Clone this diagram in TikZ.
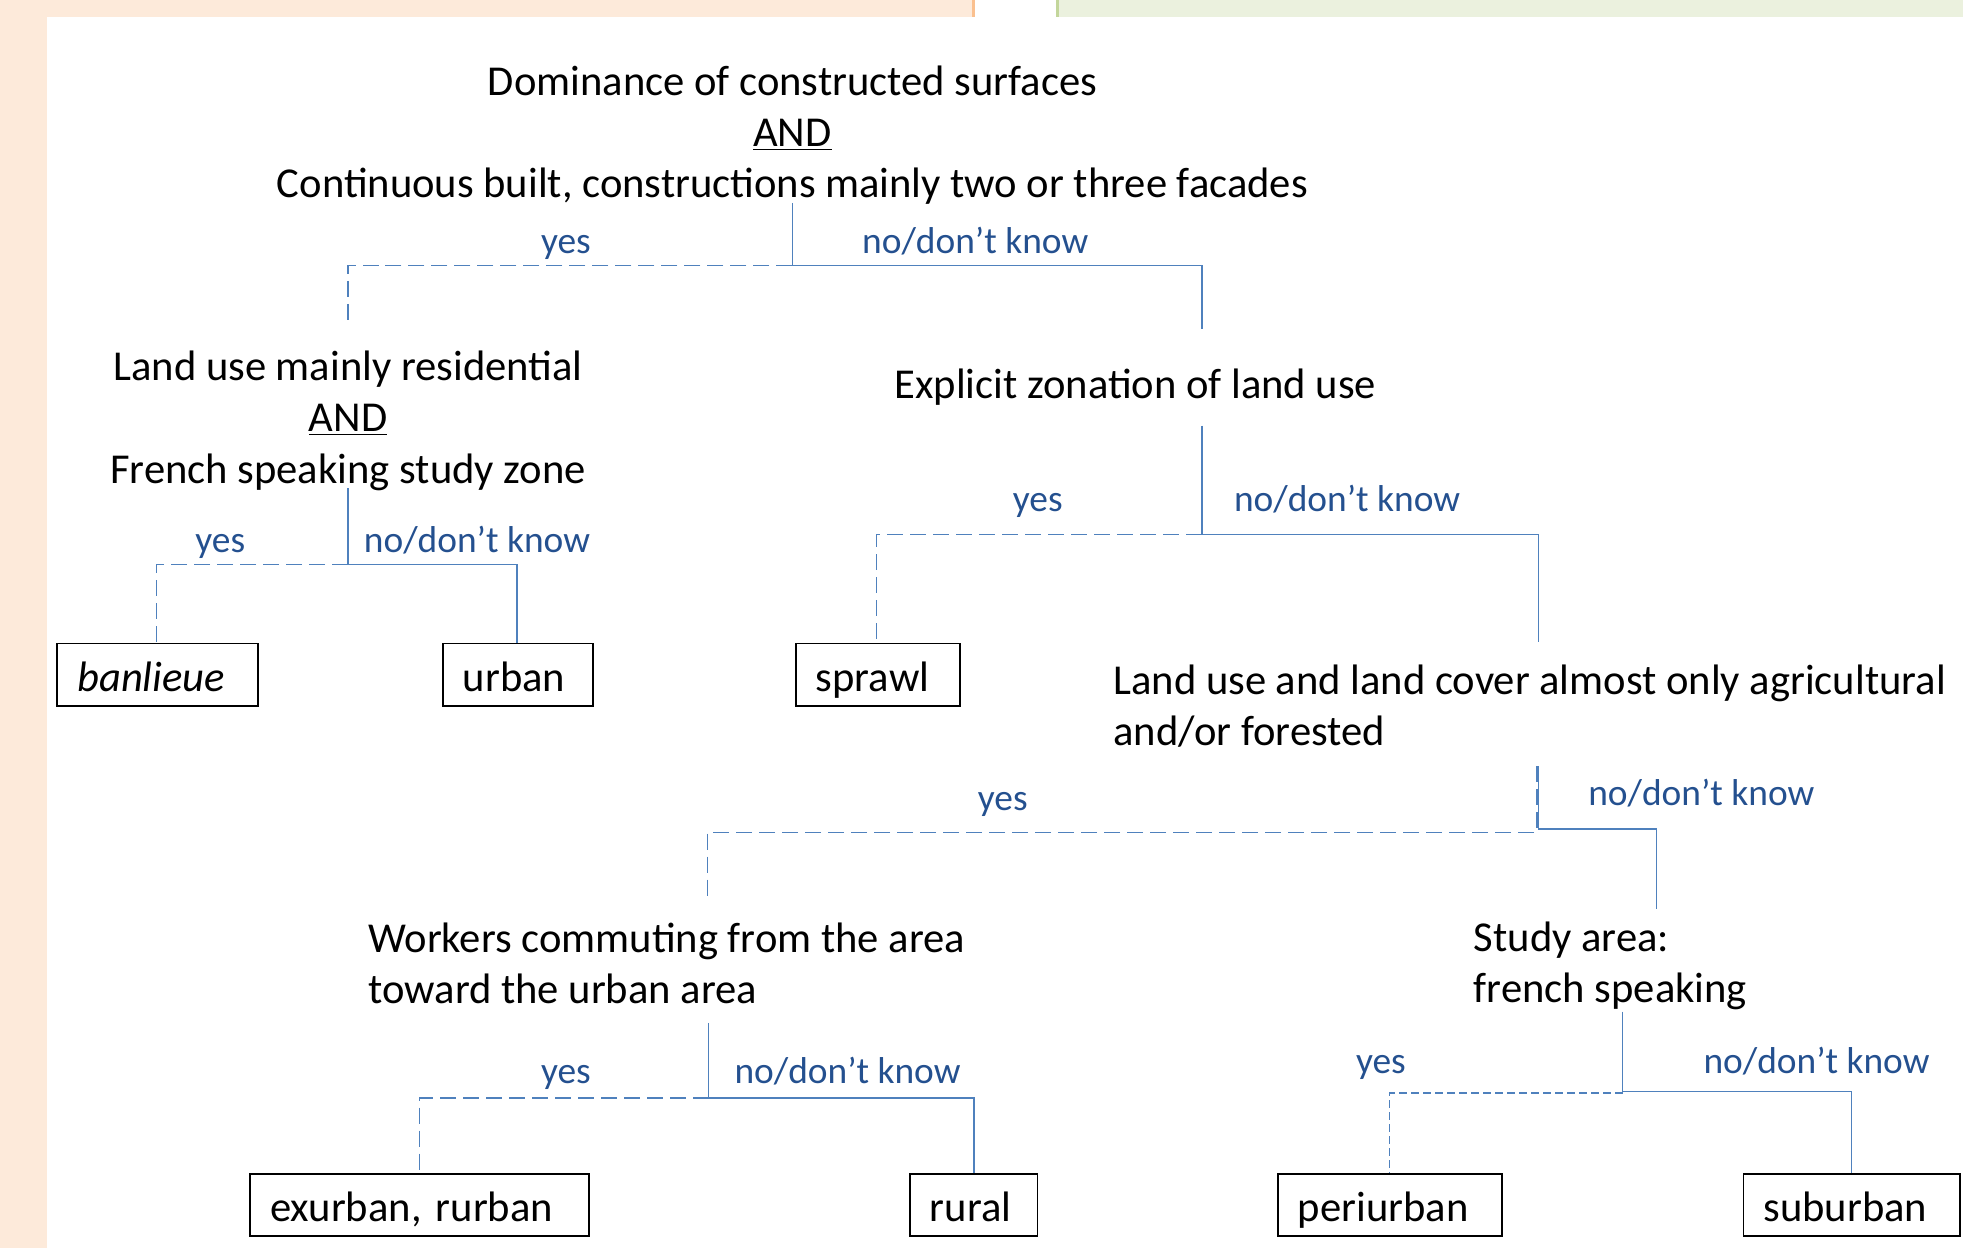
\documentclass[tikz,border=0pt]{standalone}
\usepackage{fontspec}
\setmainfont{Carlito}
\definecolor{peach}{HTML}{FDEADA}
\definecolor{peachline}{HTML}{FAC08F}
\definecolor{greenbg}{HTML}{EBF1DE}
\definecolor{greenline}{HTML}{C3D69B}
\definecolor{conncol}{HTML}{4F81BD}
\definecolor{lblcol}{HTML}{24508F}
\begin{document}
\begin{tikzpicture}[x=0.626pt,y=-0.626pt,
  qtext/.style={inner sep=0pt, font=\fontsize{21.3}{25.7}\selectfont},
  lab/.style={inner sep=0pt, text=lblcol, text height=13.5pt, text depth=4pt, font=\fontsize{18.7}{22}\selectfont},
  leaf/.style={draw=black, line width=0.9pt, minimum height=31.3pt, inner xsep=10pt, inner ysep=0pt,
    text height=21pt, text depth=4pt,
    text width=#1, align=left, anchor=west, font=\fontsize{21.3}{25.7}\selectfont},
  sc/.style={draw=conncol, line width=0.8pt},
  dc/.style={draw=conncol, line width=0.8pt, dash pattern=on 8pt off 3.5pt},
  dcf/.style={draw=conncol, line width=0.8pt, dash pattern=on 4pt off 2pt}]
\useasboundingbox (0,0) rectangle (1568,997);
% background
\fill[peach] (0,0) rectangle (777,13.3);
\fill[peach] (0,0) rectangle (37.5,997);
\draw[peachline, line width=1.5pt] (777.5,0) -- (777.5,13.3);
\fill[greenbg] (845,0) rectangle (1568,13.3);
\draw[greenline, line width=1.5pt] (844.5,0) -- (844.5,13.3);

% root
\node[qtext, align=center] (root) at (633,108) {Dominance of constructed surfaces\\\underline{AND}\\Continuous built, constructions mainly two or three facades};
\coordinate (r0) at (633,162);
\coordinate (r1) at (633,212);
\draw[sc] (r0) -- (r1) -- (960,212) -- (960,263);
\draw[dc] (r1) -- (278,212) -- (278,258);
\node[lab] (ry) at (452,195) {yes};
\node[lab] (rn) at (779,195) {no/don’t know};

% node A
\node[qtext, align=center] (qa) at (278,336) {Land use mainly residential\\\underline{AND}\\French speaking study zone};
\coordinate (a0) at (278,390);
\coordinate (a1) at (278,451);
\node[leaf=80.2pt] (banlieue) at (45,539) {\itshape banlieue};
\node[leaf=55.1pt] (urban) at (353,539) {urban};
\draw[sc] (a0) -- (a1) -- (413,451) -- (urban.north -| 413,0);
\draw[dc] (a1) -- (125,451) -- (banlieue.north -| 125,0);
\node[lab] (ay) at (176,434) {yes};
\node[lab] (an) at (381,434) {no/don’t know};

% node B
\node[qtext] (qb) at (907,309) {Explicit zonation of land use};
\coordinate (b0) at (960,340);
\coordinate (b1) at (960,427);
\node[leaf=62pt] (sprawl) at (635,539) {sprawl};
\draw[sc] (b0) -- (b1) -- (1229,427) -- (1229,513);
\draw[dc] (b1) -- (700,427) -- (sprawl.north -| 700,0);
\node[lab] (by) at (829,401) {yes};
\node[lab] (bn) at (1076,401) {no/don’t know};

% node C
\node[qtext, align=left, anchor=west] (qc) at (889,564) {Land use and land cover almost only agricultural\\and/or forested};
\coordinate (c0) at (1229,612);
\coordinate (c1) at (1229,662);
\draw[sc] (c0) -- (c1) -- (1323,662) -- (1323,726);
\draw[dc] (1227.5,612) -- (1227.5,665) -- (565,665) -- (565,720);
\node[lab] (cy) at (801,640) {yes};
\node[lab] (cn) at (1359,636) {no/don’t know};

% node D
\node[qtext, align=left, anchor=west] (qd) at (294,769.5) {Workers commuting from the area\\toward the urban area};
\coordinate (d0) at (566,817);
\coordinate (d1) at (566,877);
\node[leaf=149.6pt] (exurban) at (199,962.5) {exurban, rurban};
\node[leaf=43.9pt] (rural) at (726,962.5) {rural};
\draw[sc] (d0) -- (d1) -- (778,877) -- (rural.north -| 778,0);
\draw[dc] (d1) -- (335,877) -- (exurban.north -| 335,0);
\node[lab] (dy) at (452,858) {yes};
\node[lab] (dn) at (677,858) {no/don’t know};

% node E
\node[qtext, align=left, anchor=west] (qe) at (1177,771.5) {Study area:\\french speaking};
\coordinate (e0) at (1296,808);
\coordinate (e1) at (1296,872);
\node[leaf=92pt] (periurban) at (1020,962.5) {periurban};
\node[leaf=88.3pt] (suburban) at (1392,962.5) {suburban};
\draw[sc] (e0) -- (e1) -- (1479,872) -- (suburban.north -| 1479,0);
\draw[dcf] (1296,873) -- (1110,873) -- (periurban.north -| 1110,0);
\node[lab] (ey) at (1103,850) {yes};
\node[lab] (en) at (1451,850) {no/don’t know};
\end{tikzpicture}
\end{document}
